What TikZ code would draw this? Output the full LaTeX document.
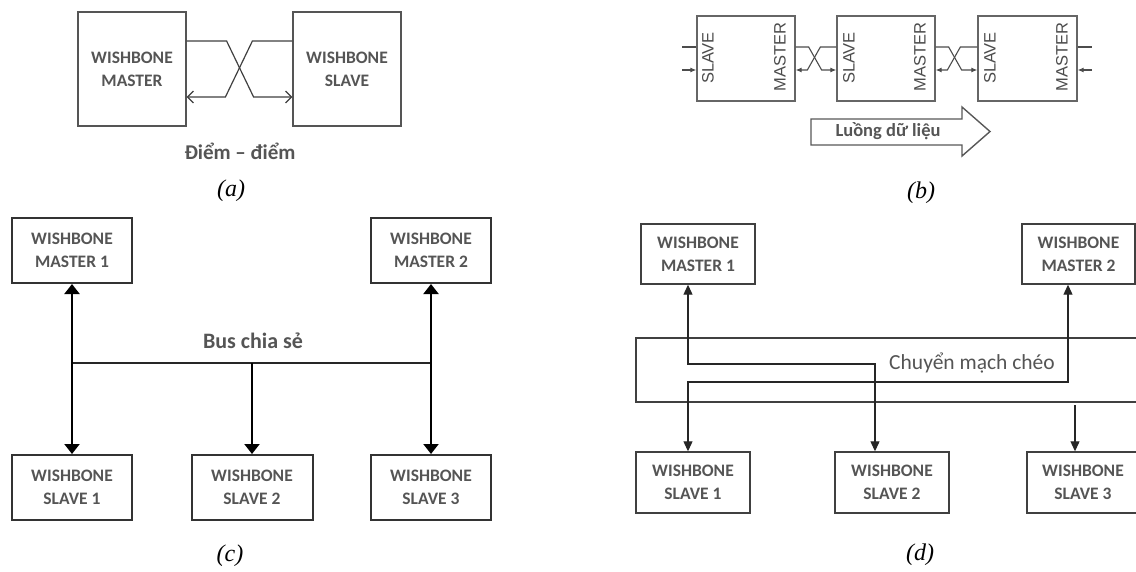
\documentclass[tikz,border=0pt]{standalone}
\usepackage{fontspec}
\setmainfont{Liberation Serif}
\newfontfamily\calfont{Carlito}
\newfontfamily\arialfont{Liberation Sans}
\usetikzlibrary{arrows.meta,calc}
\definecolor{txtgray}{HTML}{555555}
\definecolor{boxgray}{HTML}{555555}
\tikzset{
  wbtext/.style={font=\calfont\bfseries\fontsize{17.5}{23}\selectfont, text=txtgray, align=center},
  boxa/.style={draw=boxgray, line width=1.2pt, minimum width=108pt, minimum height=114pt, inner sep=0pt},
  boxb/.style={draw=boxgray!90, line width=1.3pt, minimum width=98pt, minimum height=85pt, inner sep=0pt},
  boxc/.style={wbtext, draw=black!80, line width=2pt, minimum width=120pt, minimum height=65pt, inner sep=0pt},
  boxd/.style={wbtext, draw=black!75, line width=1.4pt, minimum width=114pt, minimum height=60pt, inner sep=0pt},
  vtext/.style={font=\arialfont\fontsize{16.5}{18}\selectfont, text=black!70, rotate=90, inner sep=0pt},
  lina/.style={draw=black!75, line width=1.2pt},
  linb/.style={draw=black!70, line width=1.1pt},
  capt/.style={font=\itshape\fontsize{24}{26}\selectfont},
  tipc/.style={-{Triangle[width=15pt,length=10pt]}},
  tipcc/.style={{Triangle[width=15pt,length=10pt]}-{Triangle[width=15pt,length=10pt]}},
  tipd/.style={{Triangle[width=9pt,length=10pt]}-{Triangle[width=9pt,length=10pt]}},
}
\begin{document}
\begin{tikzpicture}[x=1pt,y=-1pt]
\path[use as bounding box, fill=white] (0,0) rectangle (1136,571);

% ---------------- (a) ----------------
\node[boxa, wbtext] (am) at (132,69) {WISHBONE\\MASTER};
\node[boxa, wbtext] (as) at (347,69) {WISHBONE\\SLAVE};
\draw[lina, -{Straight Barb[length=6pt,width=12pt]}] ([yshift=28pt]am.east) -- ++(40,0) -- ++(27,56) -- ([yshift=-28pt]as.west);
\draw[lina, -{Straight Barb[length=6pt,width=12pt]}] ([yshift=28pt]as.west) -- ++(-40,0) -- ++(-27,56) -- ([yshift=-28pt]am.east);
\node[font=\calfont\bfseries\fontsize{21}{24}\selectfont, text=txtgray] (ptp) at (240,151) {Điểm – điểm};
\node[capt] (la) at (231,191) {(a)};

% ---------------- (b) ----------------
\node[boxb] (b1) at (746,58.5) {};
\node[boxb] (b2) at (886,58.5) {};
\node[boxb, minimum width=99pt] (b3) at (1027.5,58.5) {};
\node[vtext] (s1) at (708,58) {SLAVE};
\node[vtext] (m1) at (780,57) {MASTER};
\node[vtext] (s2) at (849,58) {SLAVE};
\node[vtext] (m2) at (920,57) {MASTER};
\node[vtext] (s3) at (990,58) {SLAVE};
\node[vtext] (m3) at (1062,57) {MASTER};
\coordinate (inU) at (682,47);
\coordinate (inL) at (682,70);
\coordinate (outU) at (1092,47);
\coordinate (outL) at (1092,70);
\draw[linb] (inU) -- ([yshift=11.5pt]b1.west);
\draw[linb, -{Latex[length=6pt,width=5pt]}] (inL) -- ([yshift=-11.5pt]b1.west);
\draw[linb, -{Latex[length=6pt,width=5pt]}] ([yshift=11.5pt]b1.east) -- ++(13,0) -- ++(13,23) -- ([yshift=-11.5pt]b2.west);
\draw[linb, -{Latex[length=6pt,width=5pt]}] ([yshift=11.5pt]b2.west) -- ++(-16,0) -- ++(-13,23) -- ([yshift=-11.5pt]b1.east);
\draw[linb, -{Latex[length=6pt,width=5pt]}] ([yshift=11.5pt]b2.east) -- ++(13,0) -- ++(13,23) -- ([yshift=-11.5pt]b3.west);
\draw[linb, -{Latex[length=6pt,width=5pt]}] ([yshift=11.5pt]b3.west) -- ++(-17,0) -- ++(-13,23) -- ([yshift=-11.5pt]b2.east);
\draw[linb] ([yshift=11.5pt]b3.east) -- (outU);
\draw[linb, -{Latex[length=6pt,width=5pt]}] (outL) -- ([yshift=-11.5pt]b3.east);
\draw[draw=black!65, line width=1.4pt, line join=miter] (811,119) -- (962,119) -- (962,107) -- (990,131.5) -- (962,156) -- (962,145) -- (811,145) -- cycle;
\node[font=\calfont\bfseries\fontsize{18.5}{20}\selectfont, text=txtgray] (flow) at (888,131) {Luồng dữ liệu};
\node[capt] (lb) at (921,193) {(b)};

% ---------------- (c) ----------------
\node[boxc] (cm1) at (72,250.5) {WISHBONE\\MASTER 1};
\node[boxc] (cm2) at (431,250.5) {WISHBONE\\MASTER 2};
\node[boxc] (cs1) at (72,487.5) {WISHBONE\\SLAVE 1};
\node[boxc, minimum width=121pt] (cs2) at (252,487.5) {WISHBONE\\SLAVE 2};
\node[boxc] (cs3) at (431,487.5) {WISHBONE\\SLAVE 3};
\coordinate (busL) at (72,363);
\coordinate (busM) at (252,363);
\coordinate (busR) at (431,363);
\draw[line width=1.8pt, black!85] (busL) -- (busR);
\draw[line width=2pt, tipcc] (cm1.south) -- (cs1.north);
\draw[line width=2pt, tipcc] (cm2.south) -- (cs3.north);
\draw[line width=2pt, tipc] (busM) -- (cs2.north);
\node[font=\calfont\bfseries\fontsize{22}{24}\selectfont, text=txtgray] (bus) at (253,341) {Bus chia sẻ};
\node[capt] (lc) at (230,556) {(c)};

% ---------------- (d) ----------------
\node[boxd] (dm1) at (698,254) {WISHBONE\\MASTER 1};
\node[boxd, minimum width=113pt] (dm2) at (1078.5,254) {WISHBONE\\MASTER 2};
\node[draw=black!75, line width=1.4pt, minimum width=510pt, minimum height=64pt, inner sep=0pt] (xbar) at (891,370) {};
\node[boxd, minimum height=61pt] (ds1) at (693,482.5) {WISHBONE\\SLAVE 1};
\node[boxd, minimum height=61pt] (ds2) at (892,482.5) {WISHBONE\\SLAVE 2};
\node[boxd, minimum height=61pt, minimum width=112pt] (ds3) at (1083,482.5) {WISHBONE\\SLAVE 3};
\node[font=\calfont\fontsize{21.5}{24}\selectfont, text=txtgray] (xlab) at (972,363) {Chuyển mạch chéo};
\coordinate (p1) at (875,364);
\coordinate (p2) at (688,364);
\coordinate (q1) at (1068,382);
\coordinate (q2) at (688,382);
\coordinate (r) at (1075,405);
\draw[line width=1.1pt, black!85, tipd] (dm1.south -| p2) -- (p2) -- (p1) -- (ds2.north -| p1);
\draw[line width=1.1pt, black!85, tipd] (dm2.south -| q1) -- (q1) -- (q2) -- (ds1.north -| q2);
\draw[line width=1.1pt, black!85, -{Triangle[width=9pt,length=10pt]}] (r) -- (ds3.north -| r);
\node[capt] (ld) at (920,555) {(d)};
\end{tikzpicture}
\end{document}
